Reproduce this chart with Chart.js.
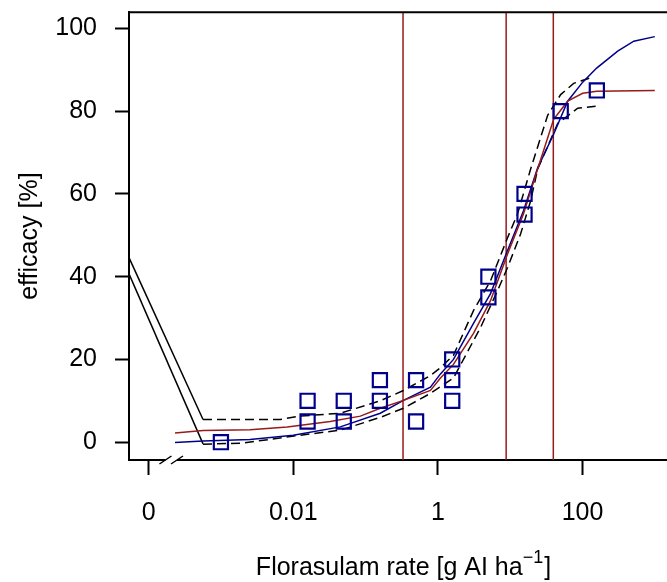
<!DOCTYPE html>
<html>
<head>
<meta charset="utf-8">
<script src="https://cdn.jsdelivr.net/npm/chart.js@4"></script>
<style>
  html, body { margin: 0; padding: 0; background: #fff; overflow: hidden; }
  #wrap { width: 690px; height: 582px; }
</style>
</head>
<body>
<div id="wrap"><canvas id="myChart" width="690" height="582"></canvas></div>
<script>
// observed data (dose in g AI/ha, efficacy in %)
const doses    = [0.001, 0.0158, 0.0158, 0.05, 0.05, 0.158, 0.158, 0.5, 0.5, 1.58, 1.58, 1.58, 5, 5, 15.8, 15.8, 50, 158];
const efficacy = [0, 10, 5, 10, 5, 15, 10, 15, 5, 20, 15, 10, 40, 35, 60, 55, 80, 85];

// fitted curves
const redDose  = [2.32e-4, 5.66e-4, 2.53e-3, 8.26e-3, 0.0325, 0.0848, 0.16, 0.334, 0.79, 1.087, 1.644, 3.11, 5.35, 9.2, 15.3, 24, 39.9, 62.4, 100.7, 157, 1000];
const redEff   = [2.2, 2.8, 3.0, 3.7, 5.0, 6.3, 8.2, 10.1, 12.5, 15.5, 18.8, 26.3, 34.2, 45.5, 55.2, 66, 78, 82.4, 84.3, 84.8, 85];

const blueDose = [2.32e-4, 5.66e-4, 2.53e-3, 0.01, 0.0448, 0.16, 0.334, 0.79, 1.087, 1.644, 3.11, 5.35, 9.2, 15.3, 24, 39.9, 62.4, 100.7, 157, 307, 512, 1000];
const blueEff  = [-0.1, 0.3, 0.65, 1.7, 3.7, 7, 10.1, 13.3, 16.5, 20, 28.7, 35.9, 46.3, 55.9, 66.3, 74.4, 82.4, 87, 90.4, 94.5, 96.9, 98];

// confidence band
const upperDose = [5.66e-4, 6.6e-3, 0.0125, 0.0448, 0.16, 0.334, 0.79, 1.087, 1.644, 3.11, 5.35, 9.2, 12.66, 19.19, 33, 49.9, 75.5, 138];
const upperEff  = [5.5, 5.5, 6.3, 7.0, 10, 12.5, 16.1, 18, 21, 31.8, 39, 49.4, 55.2, 66, 79, 84, 86.7, 88.2];
const lowerDose = [5.66e-4, 2.03e-3, 0.0125, 0.0448, 0.16, 0.334, 0.79, 1.644, 3.89, 6.69, 9.2, 13.93, 19.19, 24, 45.4, 85.9, 152];
const lowerEff  = [-0.5, -0.2, 1.7, 2.9, 6.0, 8.2, 11.8, 15.5, 27.7, 36.6, 42.2, 50.3, 58.3, 66, 77, 80.7, 81.2];

// lines from the control end of the band
const linkDose  = [5.36e-5, 5.66e-4];
const linkUpper = [44.6, 5.5];
const linkLower = [40.7, -0.4];

// effective doses (vertical lines)
const edDoses = [0.33, 8.8, 39.5];

// axes
const xTickValues = [1e-4, 0.01, 1, 100];
const xTickLabels = ['0', '0.01', '1', '100'];
const yTickValues = [0, 20, 40, 60, 80, 100];
const breakAt = [1.71e-4, 2.47e-4];

const FONT = '"Liberation Sans", Arial, sans-serif';
const RED = '#961b1b';
const BLUE = '#00008b';

const pts = (xs, ys) => xs.map((x, i) => ({ x: x, y: ys[i] }));

const lineSet = (data, color, extra) => Object.assign({
  type: 'line',
  data: data,
  borderColor: color,
  borderWidth: 1.5,
  pointRadius: 0,
  fill: false,
  tension: 0,
  order: 2,
}, extra || {});

const datasets = [
  {
    type: 'scatter',
    data: pts(doses, efficacy),
    pointStyle: 'rect',
    pointRadius: 10,
    pointBorderWidth: 2.2,
    pointBorderColor: BLUE,
    pointBackgroundColor: 'rgba(0,0,0,0)',
    order: 0,
  },
  lineSet(pts(redDose, redEff), RED, { order: 1 }),
  lineSet(pts(blueDose, blueEff), BLUE, { order: 1 }),
  lineSet(pts(upperDose, upperEff), '#000', { borderDash: [9, 5] }),
  lineSet(pts(lowerDose, lowerEff), '#000', { borderDash: [9, 5] }),
  lineSet(pts(linkDose, linkUpper), '#000'),
  lineSet(pts(linkDose, linkLower), '#000'),
];
edDoses.forEach(d => {
  datasets.push(lineSet([{ x: d, y: -10 }, { x: d, y: 120 }], RED, { order: 3 }));
});

// top border, axis break and x title with superscript
const frame = {
  id: 'frame',
  afterDraw(chart) {
    const { ctx, chartArea: a, scales: { x } } = chart;
    ctx.save();
    ctx.strokeStyle = '#000';
    ctx.lineWidth = 2;
    ctx.beginPath();
    ctx.moveTo(a.left - 1, a.top);
    ctx.lineTo(a.right, a.top);
    ctx.stroke();

    const b1 = x.getPixelForValue(breakAt[0]);
    const b2 = x.getPixelForValue(breakAt[1]);
    ctx.fillStyle = '#fff';
    ctx.fillRect(b1, a.bottom - 2, b2 - b1, 4);
    ctx.lineWidth = 1.5;
    [b1, b2].forEach(bx => {
      ctx.beginPath();
      ctx.moveTo(bx - 6, a.bottom + 4);
      ctx.lineTo(bx + 6, a.bottom - 4);
      ctx.stroke();
    });

    const main = 'Florasulam rate [g AI ha', sup = '\u22121', tail = ']';
    ctx.fillStyle = '#000';
    ctx.textBaseline = 'alphabetic';
    ctx.textAlign = 'left';
    ctx.font = '25px ' + FONT;
    const w1 = ctx.measureText(main).width;
    const w3 = ctx.measureText(tail).width;
    ctx.font = '18px ' + FONT;
    const w2 = ctx.measureText(sup).width;
    let sx = 403 - (w1 + w2 + w3) / 2;
    ctx.font = '25px ' + FONT;
    ctx.fillText(main, sx, 575);
    ctx.font = '18px ' + FONT;
    ctx.fillText(sup, sx + w1, 563);
    ctx.font = '25px ' + FONT;
    ctx.fillText(tail, sx + w1 + w2 + 1, 575);
    ctx.restore();
  }
};

new Chart(document.getElementById('myChart').getContext('2d'), {
  type: 'scatter',
  data: { datasets: datasets },
  plugins: [frame],
  options: {
    responsive: false,
    animation: false,
    layout: { padding: { top: 11, right: 3, left: 0, bottom: 0 } },
    plugins: { legend: { display: false }, tooltip: { enabled: false } },
    scales: {
      x: {
        type: 'logarithmic',
        min: 5.36e-5,
        max: 2080,
        afterBuildTicks: axis => { axis.ticks = xTickValues.map(v => ({ value: v })); },
        afterFit: axis => { axis.height = 122; axis.paddingLeft = 0; axis.paddingRight = 0; },
        grid: { drawOnChartArea: false, tickLength: 15, tickWidth: 2, tickColor: '#000' },
        border: { display: true, color: '#000', width: 2 },
        ticks: {
          autoSkip: false,
          maxRotation: 0,
          padding: 23,
          color: '#000',
          font: { family: FONT, size: 25 },
          callback: (v, i) => xTickLabels[i],
        },
      },
      y: {
        min: -4.3,
        max: 103.9,
        afterBuildTicks: axis => { axis.ticks = yTickValues.map(v => ({ value: v })); },
        afterFit: axis => { axis.width = 129; axis.paddingTop = 0; axis.paddingBottom = 0; },
        grid: { drawOnChartArea: false, tickLength: 14, tickWidth: 2, tickColor: '#000' },
        border: { display: true, color: '#000', width: 2 },
        title: {
          display: true,
          text: 'efficacy [%]',
          color: '#000',
          font: { family: FONT, size: 25 },
          padding: { top: 15, bottom: 0 },
        },
        ticks: {
          padding: 18,
          color: '#000',
          font: { family: FONT, size: 25 },
        },
      },
    },
  },
});
</script>
</body>
</html>
